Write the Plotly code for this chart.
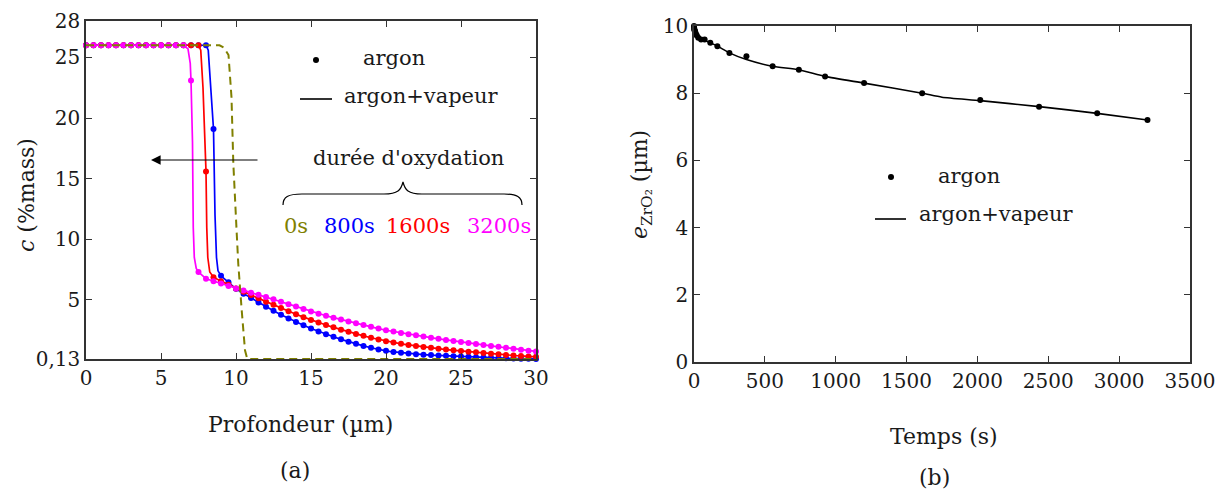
import plotly.graph_objects as go

W, H = 1227, 492
FONT = "DejaVu Serif"
TXT = "#1a1a1a"

# ---------------- data: panel (a) ----------------
depth = [i * 0.5 for i in range(61)]  # 0 .. 30 µm, markers every 0.5 µm

c_800s = [26.0] * 17 + [
    19.1, 6.99, 6.45, 5.92, 5.52, 5.15, 4.78, 4.43, 4.10, 3.78, 3.47, 3.18, 2.91,
    2.65, 2.40, 2.18, 1.96, 1.75, 1.56, 1.38, 1.21, 1.06, 0.92, 0.80, 0.71, 0.64,
    0.58, 0.53, 0.49, 0.45, 0.42, 0.39, 0.36, 0.34, 0.31, 0.28, 0.25, 0.23, 0.21,
    0.19, 0.17, 0.16, 0.15, 0.14]
c_1600s = [26.0] * 16 + [
    15.6, 6.88, 6.55, 6.25, 5.95, 5.67, 5.40, 5.13, 4.86, 4.60, 4.33, 4.07, 3.82,
    3.58, 3.35, 3.14, 2.93, 2.74, 2.55, 2.37, 2.20, 2.04, 1.88, 1.74, 1.60, 1.49,
    1.38, 1.29, 1.20, 1.12, 1.05, 0.98, 0.91, 0.85, 0.79, 0.73, 0.68, 0.62, 0.57,
    0.52, 0.47, 0.42, 0.38, 0.34, 0.31]
c_3200s = [26.0] * 14 + [
    23.1, 7.30, 6.75, 6.55, 6.35, 6.15, 5.95, 5.78, 5.60, 5.42, 5.25, 5.05, 4.85,
    4.65, 4.45, 4.25, 4.05, 3.87, 3.70, 3.54, 3.38, 3.23, 3.08, 2.93, 2.78, 2.64,
    2.50, 2.39, 2.28, 2.18, 2.08, 1.98, 1.88, 1.79, 1.70, 1.61, 1.53, 1.45, 1.37,
    1.29, 1.21, 1.13, 1.06, 0.98, 0.90, 0.82, 0.75]

# extra points of the continuous (argon+vapeur) profiles in the steep fronts
knee_800s_x = [8.15, 8.3, 8.42, 8.6, 8.7, 8.8]
knee_800s_c = [25.6, 23.0, 20.5, 12.0, 8.5, 7.4]
knee_1600s_x = [7.65, 7.8, 7.9, 8.05, 8.12, 8.25]
knee_1600s_c = [25.6, 22.5, 19.0, 11.0, 8.5, 7.3]
knee_3200s_x = [6.8, 6.95, 7.1, 7.15, 7.22, 7.35]
knee_3200s_c = [25.7, 24.5, 18.0, 11.0, 8.5, 7.6]

# initial profile (0 s)
x_0s = [0, 8.9, 9.2, 9.5, 9.7, 9.82, 10.04, 10.15, 10.38, 10.6, 10.75, 30]
c_0s = [26.0, 26.0, 25.8, 25.2, 21.7, 16.3, 10.7, 8.0, 4.15, 0.85, 0.13, 0.13]

y_ticks_a = [0.13, 5, 10, 15, 20, 25, 28]
y_labels_a = ["0,13", "5", "10", "15", "20", "25", "28"]
x_ticks_a = [0, 5, 10, 15, 20, 25, 30]

# ---------------- data: panel (b) ----------------
t_argon = [0, 1, 2, 4, 6, 8, 10, 15, 20, 30, 50, 75, 115, 165, 250, 370, 555,
           740, 925, 1200, 1610, 2020, 2435, 2845, 3200]
e_argon = [10.0, 9.95, 9.9, 9.87, 9.85, 9.82, 9.8, 9.75, 9.72, 9.65, 9.6, 9.6,
           9.5, 9.4, 9.2, 9.1, 8.8, 8.7, 8.5, 8.3, 8.0, 7.8, 7.6, 7.4, 7.2]
t_vapeur = [0, 20, 60, 115, 165, 250, 370, 555, 740, 925, 1200, 1610, 1750,
            2020, 2435, 2845, 3200]
e_vapeur = [10.0, 9.75, 9.6, 9.5, 9.4, 9.2, 9.0, 8.8, 8.7, 8.5, 8.3, 8.0, 7.88,
            7.78, 7.6, 7.4, 7.2]

COL = {"0s": "#808000", "800s": "#0000ff", "1600s": "#ff0000", "3200s": "#ff00ff"}


def merged(xm, ym, xk, yk):
    pts = sorted(zip(list(xm) + list(xk), list(ym) + list(yk)))
    return [p[0] for p in pts], [p[1] for p in pts]


fig = go.Figure()

for name, cvals, kx, kc in [("800s", c_800s, knee_800s_x, knee_800s_c),
                            ("1600s", c_1600s, knee_1600s_x, knee_1600s_c),
                            ("3200s", c_3200s, knee_3200s_x, knee_3200s_c)]:
    lx, ly = merged(depth, cvals, kx, kc)
    fig.add_trace(go.Scatter(x=lx, y=ly, mode="lines",
                             line=dict(color=COL[name], width=1.7),
                             xaxis="x", yaxis="y", showlegend=False,
                             cliponaxis=False))
    fig.add_trace(go.Scatter(x=depth, y=cvals, mode="markers",
                             marker=dict(color=COL[name], size=6),
                             xaxis="x", yaxis="y", showlegend=False,
                             cliponaxis=False))

fig.add_trace(go.Scatter(x=x_0s, y=c_0s, mode="lines",
                         line=dict(color=COL["0s"], width=2, dash="8px,5px"),
                         xaxis="x", yaxis="y", showlegend=False))

fig.add_trace(go.Scatter(x=t_vapeur, y=e_vapeur, mode="lines",
                         line=dict(color="black", width=1.6, shape="spline",
                                   smoothing=0.6),
                         xaxis="x2", yaxis="y2", showlegend=False))
fig.add_trace(go.Scatter(x=t_argon, y=e_argon, mode="markers",
                         marker=dict(color="black", size=6),
                         xaxis="x2", yaxis="y2", showlegend=False,
                         cliponaxis=False))


def px(x):
    return x / W


def py(y):
    return 1 - y / H


axis_common = dict(showline=True, linecolor="#333333", linewidth=1.5,
                   mirror="ticks", ticks="inside", ticklen=6, tickwidth=1.3,
                   tickcolor="#333333", showgrid=False, zeroline=False,
                   automargin=False,
                   tickfont=dict(family=FONT, size=20, color=TXT))

fig.update_layout(
    width=W, height=H,
    margin=dict(l=0, r=0, t=0, b=0),
    paper_bgcolor="white", plot_bgcolor="white",
    font=dict(family=FONT, color=TXT),
    xaxis=dict(domain=[px(86), px(536)], range=[0, 30], tickvals=x_ticks_a,
               anchor="y", **axis_common),
    yaxis=dict(domain=[py(359), py(21)], range=[0.13, 28], tickvals=y_ticks_a,
               ticktext=y_labels_a, anchor="x", **axis_common),
    xaxis2=dict(domain=[px(694), px(1190)], range=[0, 3500], dtick=500,
                anchor="y2", **axis_common),
    yaxis2=dict(domain=[py(362), py(26)], range=[0, 10], dtick=2,
                anchor="x2", **axis_common),
)

ann = []


def text(x, y, s, size=21, color=TXT, angle=0, xanchor="center"):
    ann.append(dict(x=px(x), y=py(y), xref="paper", yref="paper", text=s,
                    showarrow=False, textangle=angle, xanchor=xanchor,
                    yanchor="middle",
                    font=dict(family=FONT, size=size, color=color)))


# axis titles and panel labels
text(300, 424, "Profondeur (µm)", 22)
text(295, 470, "(a)", 22)
text(944, 436, "Temps (s)", 22)
text(934, 477, "(b)", 22)
text(26, 195, "<i>c</i> (%mass)", 22, angle=-90)
text(642, 185, "<i>e</i><sub>ZrO₂</sub> (µm)", 22, angle=-90)

# legends
text(394, 58, "argon", 21)
text(421, 96, "argon+vapeur", 21)
text(969, 176, "argon", 21)
text(996, 214, "argon+vapeur", 21)

# durée d'oxydation block
text(408, 158, "durée d'oxydation", 21)
text(296, 226, "0s", 21, COL["0s"])
text(349, 226, "800s", 21, COL["800s"])
text(418, 226, "1600s", 21, COL["1600s"])
text(499, 226, "3200s", 21, COL["3200s"])

# arrow
ann.append(dict(x=px(151), y=py(160), xref="paper", yref="paper",
                ax=108, ay=0, text="", showarrow=True, arrowhead=2,
                arrowsize=1.6, arrowwidth=1.2, arrowcolor="black"))

fig.update_layout(annotations=ann)

shapes = []
# legend symbols
for cx, cy in [(316, 60), (891, 177)]:
    shapes.append(dict(type="circle", xref="paper", yref="paper",
                       x0=px(cx - 3), x1=px(cx + 3), y0=py(cy + 3), y1=py(cy - 3),
                       fillcolor="black", line=dict(width=0)))
for x0, x1, yy in [(300, 332, 99), (875, 906, 219)]:
    shapes.append(dict(type="line", xref="paper", yref="paper",
                       x0=px(x0), x1=px(x1), y0=py(yy), y1=py(yy),
                       line=dict(color="black", width=1.6)))


# curly brace
def P(x, y):
    return f"{px(x):.5f},{py(y):.5f}"


brace = ("M " + P(283, 205) + " C " + P(283, 197) + " " + P(288, 194) + " " + P(302, 194)
         + " L " + P(384, 194) + " C " + P(398, 194) + " " + P(401, 190) + " " + P(403, 182)
         + " C " + P(405, 190) + " " + P(408, 194) + " " + P(422, 194)
         + " L " + P(504, 194) + " C " + P(517, 194) + " " + P(522, 197) + " " + P(522, 205))
shapes.append(dict(type="path", xref="paper", yref="paper", path=brace,
                   line=dict(color="black", width=1.2)))

fig.update_layout(shapes=shapes)

fig.write_html("out.html", config={"displayModeBar": False},
               post_script="document.body.style.margin='0';document.body.style.padding='0';")
